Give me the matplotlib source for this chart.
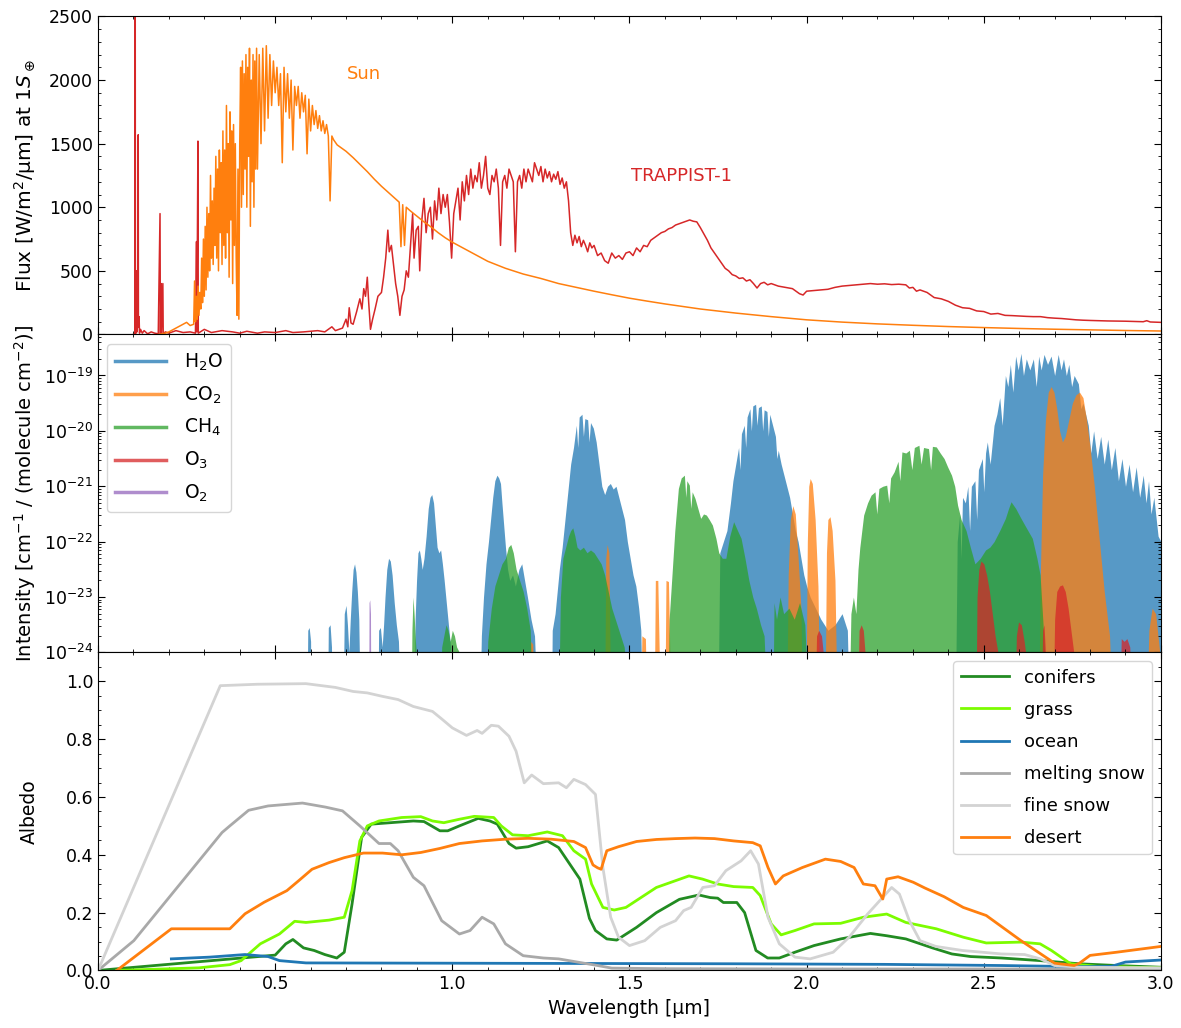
import numpy as np
import matplotlib.pyplot as plt
from matplotlib.ticker import MultipleLocator

plt.rcParams['font.family'] = 'DejaVu Sans'
plt.rcParams['mathtext.fontset'] = 'dejavusans'
plt.rcParams['font.size'] = 12.5
for ax_ in ('xtick', 'ytick'):
    plt.rcParams[ax_ + '.direction'] = 'in'
    plt.rcParams[ax_ + '.major.size'] = 5
    plt.rcParams[ax_ + '.minor.size'] = 2.5
    plt.rcParams[ax_ + '.minor.visible'] = True
plt.rcParams['xtick.top'] = True
plt.rcParams['ytick.right'] = True

# ---------------- top panel: stellar spectra at 1 S_earth ----------------
sun_uv_wl = np.arange(0.170, 0.270, 0.010)
sun_uv = [0, 5, 10, 20, 35, 50, 65, 80, 95, 70]

sun_blue_wl = np.arange(0.270, 0.4499, 0.0025)
sun_blue = [80, 420, 100, 300, 120, 380, 150, 330,
            200, 600, 250, 750, 300, 850, 350, 1000,
            450, 950, 500, 1250, 600, 1050, 550, 1150,
            700, 1400, 600, 1300, 500, 1450, 800, 1350,
            550, 1600, 700, 1450, 600, 1800, 800, 1500,
            450, 1750, 900, 1600, 400, 1650, 700, 1500,
            600, 150, 1300, 120, 1500, 2100, 1000, 2150,
            1100, 2050, 1300, 2200, 1000, 2100, 1400, 2250,
            850, 2000, 1200, 2200, 1000, 2150, 1300, 2250]

sun_vis_wl = np.arange(0.450, 0.6999, 0.005)
sun_vis = [1300, 2200, 1500, 2250, 1600, 2270, 1700, 2200,
           1800, 2150, 1900, 2100, 1800, 2050, 1350, 2100,
           1750, 2050, 1700, 2000, 1450, 1950, 1800, 1950,
           1700, 1900, 1750, 1880, 1420, 1850, 1600, 1800,
           1650, 1760, 1620, 1720, 1600, 1680, 1580, 1650,
           1560, 1050, 1560, 1530, 1510, 1490, 1480, 1470,
           1460, 1450]

sun_ir_wl = [0.70, 0.72, 0.74, 0.76, 0.78, 0.80, 0.82, 0.84, 0.85, 0.855,
             0.86, 0.865, 0.87, 0.88, 0.90, 0.92, 0.94, 0.96, 0.98, 1.00,
             1.05, 1.10, 1.15, 1.20, 1.25, 1.30, 1.35, 1.40, 1.45, 1.50,
             1.55, 1.60, 1.70, 1.80, 1.90, 2.00, 2.10, 2.20, 2.30, 2.40,
             2.50, 2.60, 2.70, 2.80, 2.90, 3.00]
sun_ir = [1440, 1390, 1335, 1280, 1220, 1165, 1115, 1065, 1040, 690,
          1020, 700, 1000, 975, 930, 885, 845, 800, 760, 725,
          650, 575, 520, 475, 440, 400, 370, 340, 312, 285,
          262, 240, 200, 168, 140, 115, 97, 83, 72, 62,
          54, 47, 41, 36, 31, 27]

trappist = [
    (0.100, 0), (0.1045, 0), (0.105, 2900), (0.1055, 0), (0.108, 30), (0.109, 500),
    (0.110, 20), (0.112, 80), (0.1135, 1570), (0.114, 60), (0.116, 140), (0.117, 10),
    (0.120, 40), (0.125, 10), (0.130, 30), (0.140, 5), (0.150, 20), (0.160, 10),
    (0.170, 5), (0.175, 950), (0.176, 0), (0.178, 400), (0.179, 10), (0.183, 400),
    (0.184, 5), (0.190, 20), (0.200, 10), (0.220, 30), (0.240, 15), (0.260, 20),
    (0.275, 10), (0.278, 730), (0.279, 20), (0.282, 1520), (0.283, 10), (0.300, 40),
    (0.320, 15), (0.350, 30), (0.380, 20), (0.400, 10), (0.420, 25), (0.450, 10),
    (0.470, 20), (0.500, 15), (0.530, 30), (0.550, 15), (0.580, 20), (0.600, 25),
    (0.620, 30), (0.640, 20), (0.660, 60), (0.670, 30), (0.690, 50), (0.700, 120),
    (0.705, 60), (0.709, 210), (0.714, 90), (0.720, 80), (0.730, 180), (0.739, 280),
    (0.745, 200), (0.750, 360), (0.755, 300), (0.760, 450), (0.764, 250), (0.769, 40),
    (0.775, 120), (0.782, 200), (0.790, 300), (0.800, 330), (0.806, 450), (0.812, 600),
    (0.818, 820), (0.822, 650), (0.828, 700), (0.834, 550), (0.840, 400), (0.846, 300),
    (0.852, 150), (0.858, 300), (0.864, 350), (0.870, 500), (0.876, 450), (0.882, 700),
    (0.888, 950), (0.892, 600), (0.898, 820), (0.904, 850), (0.908, 500), (0.914, 900),
    (0.920, 1070), (0.926, 800), (0.932, 950), (0.938, 1000), (0.944, 750), (0.950, 1050),
    (0.956, 900), (0.962, 1150), (0.968, 950), (0.974, 1100), (0.980, 1000), (0.986, 1100),
    (0.992, 880), (0.998, 600), (1.004, 950), (1.010, 1050), (1.016, 1150), (1.022, 900),
    (1.028, 1200), (1.034, 1050), (1.040, 1250), (1.046, 1100), (1.052, 1300), (1.058, 1150),
    (1.064, 1250), (1.070, 1200), (1.076, 1350), (1.082, 1150), (1.088, 1250), (1.094, 1400),
    (1.100, 1150), (1.106, 1100), (1.112, 1250), (1.118, 1200), (1.124, 1300), (1.130, 1150),
    (1.136, 700), (1.142, 1200), (1.148, 1250), (1.154, 1150), (1.160, 1300), (1.166, 1250),
    (1.172, 1200), (1.178, 650), (1.184, 1200), (1.190, 1250), (1.196, 1150), (1.202, 1300),
    (1.208, 1200), (1.214, 1300), (1.220, 1250), (1.226, 1200), (1.232, 1350), (1.238, 1300),
    (1.244, 1250), (1.250, 1320), (1.256, 1200), (1.262, 1300), (1.268, 1230), (1.274, 1280),
    (1.280, 1200), (1.286, 1260), (1.292, 1220), (1.298, 1280), (1.304, 1180), (1.310, 1230),
    (1.316, 1150), (1.322, 1200), (1.328, 1050), (1.334, 800), (1.340, 700), (1.346, 780),
    (1.352, 720), (1.358, 770), (1.364, 690), (1.370, 740), (1.376, 700), (1.382, 650),
    (1.388, 720), (1.394, 680), (1.400, 700), (1.410, 620), (1.420, 640), (1.430, 580),
    (1.440, 560), (1.450, 640), (1.460, 600), (1.470, 620), (1.480, 590), (1.490, 640),
    (1.500, 650), (1.510, 620), (1.520, 680), (1.530, 650), (1.540, 700), (1.550, 690),
    (1.560, 740), (1.570, 760), (1.580, 780), (1.590, 800), (1.600, 810), (1.610, 830),
    (1.620, 840), (1.630, 860), (1.640, 870), (1.650, 880), (1.660, 890), (1.670, 900),
    (1.680, 890), (1.690, 885), (1.700, 840), (1.710, 790), (1.720, 740), (1.730, 680),
    (1.740, 640), (1.750, 600), (1.760, 560), (1.770, 520), (1.780, 500), (1.790, 470),
    (1.800, 460), (1.810, 440), (1.820, 445), (1.830, 420), (1.840, 430), (1.850, 400),
    (1.860, 365), (1.870, 400), (1.880, 410), (1.890, 390), (1.900, 400), (1.920, 380),
    (1.940, 370), (1.960, 360), (1.980, 320), (1.990, 310), (2.000, 340), (2.020, 345),
    (2.040, 350), (2.060, 355), (2.080, 370), (2.100, 380), (2.120, 385), (2.140, 390),
    (2.160, 395), (2.180, 400), (2.200, 395), (2.220, 398), (2.240, 392), (2.260, 395),
    (2.280, 390), (2.290, 365), (2.300, 370), (2.310, 340), (2.320, 350), (2.340, 330),
    (2.360, 290), (2.380, 280), (2.400, 260), (2.420, 230), (2.440, 210), (2.460, 205),
    (2.480, 185), (2.500, 180), (2.520, 160), (2.540, 165), (2.560, 150), (2.580, 148),
    (2.600, 145), (2.620, 142), (2.640, 140), (2.660, 140), (2.680, 132), (2.700, 128),
    (2.720, 125), (2.740, 120), (2.760, 115), (2.780, 112), (2.800, 110), (2.850, 106),
    (2.900, 104), (2.950, 100), (2.960, 108), (2.970, 98), (3.000, 95)]

# ---------------- middle panel: line intensities (wavelength, log10 I) ----------------
h2o = [
    (0.590, -25), (0.592, -23.6), (0.596, -23.55), (0.600, -23.8), (0.601, -25),
    (0.648, -25), (0.650, -23.55), (0.655, -23.5), (0.659, -23.9), (0.660, -25),
    (0.692, -25), (0.695, -23.3), (0.700, -23.15), (0.704, -23.5), (0.708, -24.0),
    (0.712, -23.4), (0.716, -22.9), (0.720, -22.5), (0.724, -22.4), (0.728, -22.55),
    (0.732, -22.9), (0.736, -23.4), (0.740, -25),
    (0.790, -25), (0.792, -23.6), (0.797, -23.55), (0.802, -23.9), (0.806, -23.5),
    (0.810, -23.0), (0.815, -22.5), (0.820, -22.3), (0.825, -22.35), (0.830, -22.6),
    (0.836, -23.1), (0.842, -23.5), (0.848, -23.8), (0.853, -25),
    (0.892, -25), (0.895, -23.4), (0.899, -22.7), (0.903, -22.2), (0.907, -22.15),
    (0.911, -22.3), (0.915, -22.5), (0.920, -22.3), (0.926, -21.9), (0.932, -21.4),
    (0.937, -21.2), (0.942, -21.15), (0.947, -21.3), (0.952, -21.7), (0.957, -22.1),
    (0.962, -22.2), (0.967, -22.15), (0.972, -22.4), (0.977, -22.7), (0.983, -23.1),
    (0.989, -23.5), (0.995, -23.9), (0.998, -25),
    (1.078, -25), (1.082, -23.7), (1.088, -23.0), (1.095, -22.4), (1.102, -22.0),
    (1.108, -21.6), (1.114, -21.2), (1.120, -20.9), (1.126, -20.8), (1.131, -20.85),
    (1.136, -20.95), (1.140, -21.3), (1.145, -21.7), (1.150, -22.1), (1.156, -22.5),
    (1.162, -22.7), (1.170, -22.6), (1.178, -22.8), (1.188, -22.5), (1.196, -22.4),
    (1.204, -22.7), (1.212, -23.0), (1.222, -23.4), (1.232, -23.7), (1.240, -25),
    (1.280, -25), (1.282, -23.6), (1.290, -23.3), (1.296, -22.9), (1.302, -22.5),
    (1.310, -22.1), (1.318, -21.6), (1.326, -21.1), (1.334, -20.6), (1.342, -20.3),
    (1.350, -19.9), (1.354, -20.3), (1.358, -19.75), (1.366, -19.70), (1.370, -20.1),
    (1.374, -19.78), (1.382, -19.8), (1.386, -20.2), (1.390, -19.85), (1.398, -19.95),
    (1.406, -20.2), (1.414, -20.6), (1.422, -21.0), (1.430, -21.15), (1.438, -21.0),
    (1.446, -20.95), (1.454, -21.05), (1.462, -21.0), (1.470, -21.2), (1.478, -21.4),
    (1.486, -21.6), (1.494, -22.0), (1.502, -22.3), (1.510, -22.6), (1.518, -22.8),
    (1.526, -23.2), (1.532, -23.6), (1.536, -25),
    (1.750, -25), (1.755, -22.2), (1.765, -22.0), (1.775, -21.8), (1.785, -21.3),
    (1.792, -20.9), (1.800, -20.6), (1.808, -20.3), (1.812, -20.7), (1.816, -20.05),
    (1.824, -19.9), (1.828, -20.3), (1.832, -19.75), (1.840, -19.6), (1.844, -20.0),
    (1.848, -19.55), (1.856, -19.52), (1.860, -19.9), (1.864, -19.58), (1.872, -19.55),
    (1.876, -20.0), (1.880, -19.62), (1.888, -19.65), (1.892, -20.1), (1.896, -19.7),
    (1.904, -19.9), (1.912, -20.1), (1.916, -20.5), (1.920, -20.35), (1.928, -20.6),
    (1.936, -20.8), (1.944, -21.0), (1.952, -21.2), (1.960, -21.5), (1.968, -21.8),
    (1.976, -22.0), (1.984, -22.3), (1.992, -22.6), (2.000, -22.8), (2.010, -23.0),
    (2.025, -23.2), (2.040, -23.4), (2.060, -23.6), (2.080, -23.5), (2.100, -23.3),
    (2.115, -23.6), (2.120, -25),
    (2.420, -25), (2.425, -22.0), (2.432, -21.5), (2.436, -22.3), (2.440, -21.2),
    (2.448, -21.3), (2.455, -21.0), (2.460, -21.8), (2.465, -21.0), (2.475, -20.9),
    (2.480, -21.6), (2.485, -20.7), (2.496, -20.5), (2.500, -21.1), (2.505, -20.4),
    (2.510, -20.2), (2.518, -20.6), (2.529, -19.9), (2.537, -19.7), (2.545, -19.4),
    (2.552, -19.9), (2.561, -19.0), (2.568, -19.2), (2.575, -18.8), (2.582, -19.3),
    (2.590, -18.65), (2.597, -18.9), (2.605, -18.6), (2.612, -19.0), (2.620, -18.7),
    (2.630, -18.9), (2.640, -18.7), (2.648, -19.2), (2.655, -18.65), (2.662, -18.9),
    (2.670, -18.62), (2.680, -18.8), (2.690, -18.65), (2.700, -19.0), (2.710, -18.62),
    (2.718, -18.9), (2.725, -18.7), (2.733, -19.0), (2.740, -18.8), (2.748, -19.2),
    (2.755, -19.0), (2.767, -19.15), (2.774, -19.6), (2.780, -19.5), (2.795, -19.9),
    (2.802, -20.4), (2.810, -20.0), (2.820, -20.5), (2.830, -20.1), (2.840, -20.6),
    (2.850, -20.15), (2.860, -20.7), (2.870, -20.3), (2.880, -20.9), (2.890, -20.5),
    (2.900, -21.0), (2.910, -20.6), (2.920, -21.1), (2.930, -20.65), (2.940, -21.2),
    (2.950, -20.8), (2.958, -21.3), (2.965, -20.9), (2.972, -21.5), (2.980, -21.2),
    (2.992, -21.9), (3.000, -22.0)]

co2 = [
    (1.218, -25), (1.221, -23.8), (1.227, -23.85), (1.231, -25),
    (1.430, -25), (1.433, -22.3), (1.437, -22.05), (1.442, -22.2), (1.447, -25),
    (1.532, -25), (1.535, -23.7), (1.545, -23.75), (1.549, -25),
    (1.570, -25), (1.573, -22.7), (1.580, -22.7), (1.587, -25),
    (1.600, -25), (1.603, -22.7), (1.610, -22.72), (1.617, -25),
    (1.944, -25), (1.948, -22.6), (1.954, -21.6), (1.961, -21.35), (1.968, -21.5),
    (1.976, -22.3), (1.984, -23.2), (1.988, -25),
    (1.998, -25), (2.002, -22.0), (2.006, -21.0), (2.010, -20.86), (2.016, -20.95),
    (2.024, -21.6), (2.032, -22.8), (2.037, -25),
    (2.052, -25), (2.056, -22.2), (2.060, -21.6), (2.066, -21.55), (2.072, -21.8),
    (2.080, -22.7), (2.086, -25),
    (2.655, -25), (2.660, -22.5), (2.666, -20.8), (2.674, -19.8), (2.682, -19.3),
    (2.690, -19.2), (2.698, -19.3), (2.706, -19.6), (2.714, -20.0), (2.722, -20.2),
    (2.730, -20.1), (2.740, -19.8), (2.750, -19.5), (2.760, -19.35), (2.770, -19.3),
    (2.780, -19.4), (2.790, -19.8), (2.800, -20.3), (2.812, -21.0), (2.825, -21.9),
    (2.840, -22.9), (2.855, -23.7), (2.862, -25),
    (2.960, -25), (2.966, -23.6), (2.975, -23.2), (2.985, -23.3), (2.995, -23.9), (3.000, -24.2)]

ch4 = [
    (0.884, -25), (0.886, -23.6), (0.889, -23.0), (0.892, -23.3), (0.896, -23.8),
    (0.900, -24.2), (0.902, -25),
    (0.966, -25), (0.970, -23.9), (0.976, -23.7), (0.982, -23.5), (0.988, -23.6),
    (0.994, -23.8), (1.000, -23.6), (1.006, -23.7), (1.012, -23.9), (1.020, -24.0),
    (1.030, -25),
    (1.095, -25), (1.100, -23.8), (1.110, -23.2), (1.120, -22.8), (1.130, -22.6),
    (1.140, -22.4), (1.150, -22.3), (1.158, -22.1), (1.165, -22.05), (1.172, -22.2),
    (1.180, -22.5), (1.190, -22.7), (1.200, -22.9), (1.210, -23.2), (1.220, -23.6),
    (1.226, -25),
    (1.300, -25), (1.305, -23.0), (1.312, -22.3), (1.320, -22.1), (1.328, -21.9),
    (1.334, -21.8), (1.340, -21.75), (1.346, -21.9), (1.352, -22.1), (1.360, -22.15),
    (1.370, -22.1), (1.380, -22.2), (1.390, -22.15), (1.400, -22.2), (1.410, -22.3),
    (1.420, -22.4), (1.430, -22.6), (1.440, -22.9), (1.450, -23.2), (1.460, -23.4),
    (1.470, -23.6), (1.485, -23.9), (1.500, -25),
    (1.609, -25), (1.612, -23.4), (1.617, -22.9), (1.628, -21.8), (1.638, -21.04),
    (1.646, -20.85), (1.655, -20.80), (1.659, -21.2), (1.662, -20.9), (1.669, -20.98),
    (1.673, -21.4), (1.677, -21.1), (1.685, -21.22), (1.693, -21.4), (1.701, -21.58),
    (1.709, -21.5), (1.717, -21.52), (1.725, -21.6), (1.734, -21.7), (1.744, -21.94),
    (1.752, -22.2), (1.762, -22.3), (1.772, -22.3), (1.783, -21.9), (1.794, -21.64),
    (1.805, -21.8), (1.815, -21.94), (1.826, -22.3), (1.837, -22.7), (1.848, -23.0),
    (1.858, -23.2), (1.870, -23.5), (1.880, -23.7), (1.888, -25),
    (1.905, -25), (1.908, -23.1), (1.915, -23.4), (1.925, -23.0), (1.935, -23.3),
    (1.950, -23.2), (1.965, -23.4), (1.980, -23.1), (1.995, -23.5), (2.005, -25),
    (2.120, -25), (2.125, -23.3), (2.132, -23.0), (2.139, -23.3), (2.145, -22.5),
    (2.150, -22.11), (2.161, -21.52), (2.172, -21.3), (2.182, -21.16), (2.193, -21.1),
    (2.198, -21.5), (2.204, -21.04), (2.215, -21.0), (2.226, -20.98), (2.232, -21.3),
    (2.237, -20.85), (2.247, -20.74), (2.258, -20.55), (2.263, -20.9), (2.269, -20.38),
    (2.280, -20.4), (2.290, -20.35), (2.297, -20.7), (2.304, -20.3), (2.317, -20.26),
    (2.323, -20.6), (2.330, -20.3), (2.344, -20.32), (2.350, -20.7), (2.355, -20.28),
    (2.366, -20.29), (2.377, -20.4), (2.388, -20.5), (2.398, -20.65), (2.409, -20.8),
    (2.418, -21.0), (2.426, -21.34), (2.436, -21.6), (2.450, -21.8), (2.462, -22.1),
    (2.475, -22.4), (2.490, -22.3), (2.505, -22.15), (2.517, -22.1), (2.529, -22.0),
    (2.545, -21.8), (2.561, -21.58), (2.570, -21.4), (2.577, -21.28), (2.590, -21.4),
    (2.605, -21.58), (2.620, -21.75), (2.637, -21.94), (2.650, -22.3), (2.659, -22.6),
    (2.670, -23.78), (2.680, -25)]

o3 = [
    (2.024, -25), (2.028, -23.7), (2.034, -23.6), (2.042, -23.7), (2.050, -24.2), (2.054, -25),
    (2.144, -25), (2.148, -23.6), (2.154, -23.5), (2.160, -23.6), (2.166, -24.1), (2.169, -25),
    (2.478, -25), (2.481, -23.0), (2.486, -22.5), (2.492, -22.35), (2.500, -22.4),
    (2.508, -22.6), (2.516, -22.9), (2.524, -23.3), (2.532, -23.7), (2.540, -24.0),
    (2.548, -24.3), (2.552, -25),
    (2.588, -25), (2.592, -23.7), (2.598, -23.45), (2.606, -23.5), (2.614, -23.8),
    (2.622, -24.2), (2.628, -25),
    (2.663, -25), (2.666, -23.6), (2.670, -23.5), (2.674, -24.0), (2.676, -25),
    (2.696, -25), (2.700, -23.4), (2.706, -22.9), (2.714, -22.8), (2.722, -22.78),
    (2.730, -22.9), (2.738, -23.2), (2.746, -23.6), (2.754, -24.0), (2.758, -25),
    (2.884, -25), (2.888, -23.75), (2.896, -23.8), (2.904, -23.75), (2.912, -23.9), (2.920, -25)]

o2 = [(0.764, -25), (0.765, -23.1), (0.767, -23.05), (0.769, -23.3), (0.770, -25)]

molecules = [('H$_2$O', h2o, 'tab:blue'), ('CO$_2$', co2, 'tab:orange'),
             ('CH$_4$', ch4, 'tab:green'), ('O$_3$', o3, 'tab:red'),
             ('O$_2$', o2, 'tab:purple')]

# ---------------- bottom panel: surface albedos ----------------
conifers = [
    (0.0, 0.0), (0.5, 0.053), (0.53, 0.092), (0.55, 0.107), (0.58, 0.078), (0.61, 0.069),
    (0.64, 0.055), (0.674, 0.043), (0.695, 0.063), (0.717, 0.23), (0.744, 0.46),
    (0.771, 0.506), (0.803, 0.509), (0.89, 0.517), (0.92, 0.515), (0.965, 0.483),
    (0.987, 0.483), (1.02, 0.50), (1.073, 0.526), (1.106, 0.517), (1.127, 0.506),
    (1.16, 0.439), (1.18, 0.423), (1.214, 0.428), (1.268, 0.448), (1.30, 0.425),
    (1.36, 0.316), (1.387, 0.18), (1.404, 0.138), (1.436, 0.109), (1.464, 0.105),
    (1.52, 0.149), (1.576, 0.2), (1.641, 0.246), (1.696, 0.261), (1.728, 0.252),
    (1.749, 0.25), (1.765, 0.235), (1.803, 0.235), (1.825, 0.2), (1.857, 0.069),
    (1.89, 0.043), (1.923, 0.043), (1.967, 0.063), (2.021, 0.086), (2.096, 0.109),
    (2.18, 0.128), (2.226, 0.12), (2.28, 0.109), (2.355, 0.078), (2.41, 0.057),
    (2.463, 0.048), (2.55, 0.043), (2.659, 0.034), (2.77, 0.023), (2.875, 0.017), (3.0, 0.011)]

grass = [
    (0.053, 0.0), (0.285, 0.009), (0.372, 0.02), (0.404, 0.034), (0.458, 0.092),
    (0.512, 0.126), (0.555, 0.17), (0.587, 0.166), (0.652, 0.174), (0.695, 0.184),
    (0.717, 0.276), (0.739, 0.448), (0.76, 0.50), (0.793, 0.517), (0.857, 0.529),
    (0.911, 0.532), (0.944, 0.517), (0.976, 0.511), (1.02, 0.523), (1.062, 0.533),
    (1.117, 0.529), (1.138, 0.50), (1.17, 0.469), (1.214, 0.466), (1.268, 0.479),
    (1.311, 0.466), (1.343, 0.414), (1.376, 0.385), (1.393, 0.299), (1.425, 0.218),
    (1.457, 0.209), (1.49, 0.218), (1.576, 0.287), (1.668, 0.327), (1.706, 0.316),
    (1.749, 0.299), (1.794, 0.29), (1.848, 0.287), (1.869, 0.259), (1.90, 0.161),
    (1.928, 0.123), (1.967, 0.138), (2.021, 0.161), (2.096, 0.163), (2.16, 0.184),
    (2.226, 0.195), (2.28, 0.166), (2.366, 0.144), (2.442, 0.115), (2.507, 0.095),
    (2.605, 0.098), (2.659, 0.092), (2.691, 0.069), (2.745, 0.023), (2.82, 0.014), (3.0, 0.009)]

ocean = [
    (0.207, 0.040), (0.315, 0.046), (0.415, 0.055), (0.48, 0.048), (0.512, 0.034),
    (0.587, 0.026), (1.0, 0.025), (1.4, 0.024), (1.8, 0.023), (2.22, 0.021),
    (2.55, 0.017), (2.77, 0.013), (2.86, 0.014), (2.9, 0.029), (3.0, 0.036)]

melting_snow = [
    (0.0, 0.0), (0.101, 0.103), (0.35, 0.477), (0.372, 0.50), (0.425, 0.554),
    (0.48, 0.569), (0.577, 0.579), (0.642, 0.565), (0.69, 0.552), (0.739, 0.50),
    (0.793, 0.439), (0.825, 0.439), (0.847, 0.414), (0.89, 0.322), (0.92, 0.293),
    (0.97, 0.172), (1.02, 0.126), (1.05, 0.138), (1.084, 0.184), (1.117, 0.161),
    (1.15, 0.092), (1.2, 0.051), (1.257, 0.043), (1.30, 0.040), (1.41, 0.017),
    (1.45, 0.008), (1.6, 0.006), (2.0, 0.005), (2.5, 0.005), (3.0, 0.004)]

fine_snow = [
    (0.0, 0.0), (0.345, 0.985), (0.45, 0.99), (0.587, 0.992), (0.67, 0.979),
    (0.72, 0.965), (0.76, 0.96), (0.803, 0.948), (0.847, 0.937), (0.89, 0.913),
    (0.944, 0.896), (0.97, 0.87), (1.0, 0.839), (1.04, 0.813), (1.07, 0.83),
    (1.084, 0.82), (1.11, 0.848), (1.13, 0.845), (1.16, 0.81), (1.18, 0.758),
    (1.203, 0.649), (1.224, 0.676), (1.257, 0.646), (1.30, 0.649), (1.322, 0.632),
    (1.343, 0.661), (1.376, 0.643), (1.404, 0.609), (1.425, 0.356), (1.447, 0.184),
    (1.469, 0.115), (1.50, 0.086), (1.543, 0.103), (1.587, 0.149), (1.63, 0.172),
    (1.653, 0.207), (1.674, 0.218), (1.707, 0.287), (1.74, 0.293), (1.772, 0.345),
    (1.815, 0.379), (1.842, 0.414), (1.864, 0.368), (1.891, 0.184), (1.923, 0.092),
    (1.967, 0.046), (2.01, 0.040), (2.075, 0.063), (2.12, 0.115), (2.172, 0.195),
    (2.215, 0.253), (2.24, 0.287), (2.262, 0.264), (2.29, 0.172), (2.32, 0.103),
    (2.365, 0.083), (2.44, 0.069), (2.55, 0.057), (2.615, 0.055), (2.66, 0.040),
    (2.70, 0.017), (2.77, 0.011), (2.88, 0.010), (3.0, 0.009)]

desert = [
    (0.053, 0.0), (0.207, 0.144), (0.372, 0.144), (0.415, 0.196), (0.469, 0.236),
    (0.533, 0.276), (0.566, 0.310), (0.604, 0.35), (0.652, 0.373), (0.695, 0.39),
    (0.749, 0.406), (0.803, 0.406), (0.857, 0.40), (0.911, 0.408), (0.965, 0.422),
    (1.02, 0.439), (1.084, 0.448), (1.15, 0.454), (1.214, 0.457), (1.279, 0.454),
    (1.343, 0.446), (1.376, 0.425), (1.397, 0.365), (1.41, 0.355), (1.42, 0.35),
    (1.436, 0.414), (1.469, 0.428), (1.52, 0.446), (1.576, 0.453), (1.63, 0.456),
    (1.685, 0.458), (1.74, 0.456), (1.794, 0.448), (1.848, 0.442), (1.869, 0.431),
    (1.891, 0.356), (1.912, 0.299), (1.934, 0.327), (1.988, 0.356), (2.053, 0.385),
    (2.096, 0.377), (2.134, 0.356), (2.16, 0.299), (2.193, 0.293), (2.215, 0.247),
    (2.226, 0.316), (2.258, 0.324), (2.301, 0.305), (2.334, 0.285), (2.388, 0.255),
    (2.442, 0.218), (2.507, 0.19), (2.605, 0.103), (2.70, 0.025), (2.755, 0.017),
    (2.77, 0.025), (2.80, 0.052), (2.875, 0.063), (3.0, 0.083)]

surfaces = [('conifers', conifers, 'forestgreen'), ('grass', grass, 'lawngreen'),
            ('ocean', ocean, 'tab:blue'), ('melting snow', melting_snow, 'darkgray'),
            ('fine snow', fine_snow, 'lightgray'), ('desert', desert, 'tab:orange')]

fig, (ax1, ax2, ax3) = plt.subplots(3, 1, figsize=(11.81, 10.28), dpi=100, sharex=True)
fig.subplots_adjust(left=0.083, right=0.983, top=0.984, bottom=0.056, hspace=0)

# top
sun_wl = np.concatenate([sun_uv_wl, sun_blue_wl, sun_vis_wl, sun_ir_wl])
sun_flux = np.concatenate([sun_uv, sun_blue, sun_vis, sun_ir])
tr = np.array(trappist)
ax1.plot(tr[:, 0], tr[:, 1], color='tab:red', lw=1.1)
ax1.plot(sun_wl, sun_flux, color='tab:orange', lw=1.1)
ax1.text(0.703, 2050, 'Sun', color='tab:orange', fontsize=13, va='center')
ax1.text(1.504, 1242, 'TRAPPIST-1', color='tab:red', fontsize=13, va='center')
ax1.set_ylim(0, 2500)
ax1.yaxis.set_major_locator(MultipleLocator(500))
ax1.yaxis.set_minor_locator(MultipleLocator(100))
ax1.set_ylabel(r'Flux [W/m$^2$/µm] at 1$S_\oplus$', fontsize=14.5)

# middle
for name, pts, c in molecules:
    arr = np.array(pts)
    ax2.fill_between(arr[:, 0], 1e-24, 10 ** arr[:, 1], color=c, alpha=0.75, lw=0)
    ax2.plot([], [], color=c, alpha=0.75, lw=2.5, label=name)
ax2.set_yscale('log')
ax2.set_ylim(1e-24, 5.5e-19)
ax2.set_ylabel(r'Intensity [cm$^{-1}$ / (molecule cm$^{-2}$)]', fontsize=14)
ax2.legend(loc='upper left', fontsize=13.5, handlelength=2.7, handletextpad=1.0,
           labelspacing=0.62)

# bottom
for name, pts, c in surfaces:
    arr = np.array(pts)
    ax3.plot(arr[:, 0], arr[:, 1], color=c, lw=2, label=name)
ax3.set_ylim(0, 1.1)
ax3.yaxis.set_major_locator(MultipleLocator(0.2))
ax3.yaxis.set_minor_locator(MultipleLocator(0.05))
ax3.set_ylabel('Albedo', fontsize=13.5)
ax3.legend(loc='upper right', fontsize=13, handlelength=2.7, labelspacing=0.78)

ax3.set_xlim(0, 3)
ax3.xaxis.set_major_locator(MultipleLocator(0.5))
ax3.xaxis.set_minor_locator(MultipleLocator(0.1))
ax3.set_xlabel('Wavelength [µm]', fontsize=13.5)

fig.align_ylabels([ax1, ax2, ax3])
fig.savefig('out.png', dpi=100)
